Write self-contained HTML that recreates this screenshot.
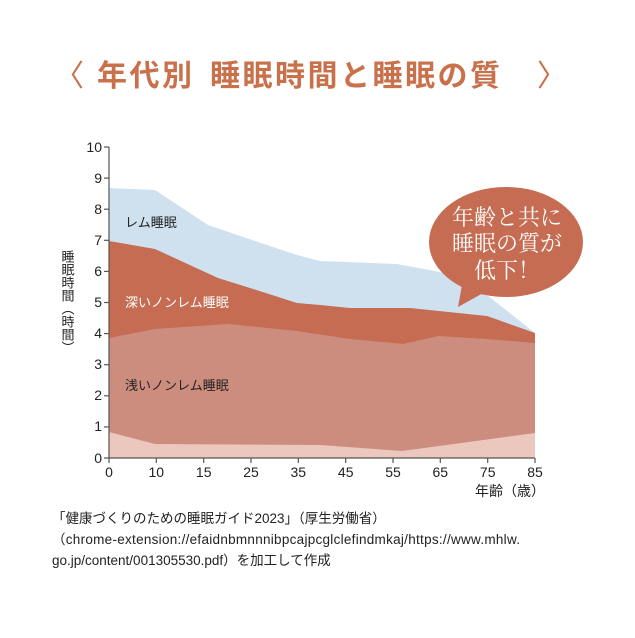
<!DOCTYPE html>
<html><head><meta charset="utf-8"><style>
body{margin:0;background:#fff;width:635px;height:633px;overflow:hidden;font-family:"Liberation Sans","Noto Sans CJK JP",sans-serif}
</style></head><body>
<svg width="635" height="633" viewBox="0 0 635 633" xmlns="http://www.w3.org/2000/svg" font-family="Liberation Sans, Noto Sans CJK JP, sans-serif">
<g font-size="30" font-weight="bold" fill="#c8714a" font-family="Noto Sans CJK JP, sans-serif">
<text x="54" y="86" font-weight="normal">〈</text>
<text x="97" y="86" letter-spacing="2.5">年代別</text>
<text x="210" y="86" letter-spacing="2.5">睡眠時間と睡眠の質</text>
<text x="537" y="86" font-weight="normal">〉</text>
</g>
<polygon fill="#cfe1ee" points="109,188 155,190 208,225 252,240 297,255 320,261 397,264 440,272 487,295 535,333 535,458 109,458"/>
<polygon fill="#c56c52" points="109,241 155,249 218,278 250,288 297,303 320,305 350,308 410,308 487,316 535,333 535,458 109,458"/>
<polygon fill="#cd8d7e" points="109,338 155,329 228,324 297,331 350,339 403,344 438,336 487,339 535,343 535,458 109,458"/>
<polygon fill="#ebc7bd" points="109,432 155,444 320,445 402,451 535,433 535,458 109,458"/>
<g stroke="#555" stroke-width="1.2">
<line x1="109" y1="147" x2="109" y2="458"/>
<line x1="109" y1="458" x2="535" y2="458"/>
<line x1="104" y1="147" x2="109" y2="147"/><line x1="104" y1="178.1" x2="109" y2="178.1"/><line x1="104" y1="209.2" x2="109" y2="209.2"/><line x1="104" y1="240.3" x2="109" y2="240.3"/><line x1="104" y1="271.4" x2="109" y2="271.4"/><line x1="104" y1="302.5" x2="109" y2="302.5"/><line x1="104" y1="333.6" x2="109" y2="333.6"/><line x1="104" y1="364.7" x2="109" y2="364.7"/><line x1="104" y1="395.8" x2="109" y2="395.8"/><line x1="104" y1="426.9" x2="109" y2="426.9"/><line x1="104" y1="458" x2="109" y2="458"/>
<line x1="109" y1="458" x2="109" y2="463"/><line x1="156.3" y1="458" x2="156.3" y2="463"/><line x1="203.7" y1="458" x2="203.7" y2="463"/><line x1="251" y1="458" x2="251" y2="463"/><line x1="298.3" y1="458" x2="298.3" y2="463"/><line x1="345.7" y1="458" x2="345.7" y2="463"/><line x1="393" y1="458" x2="393" y2="463"/><line x1="440.3" y1="458" x2="440.3" y2="463"/><line x1="487.7" y1="458" x2="487.7" y2="463"/><line x1="535" y1="458" x2="535" y2="463"/>
</g>
<g font-size="14" fill="#222" text-anchor="end">
<text x="102" y="152">10</text><text x="102" y="183">9</text><text x="102" y="214">8</text><text x="102" y="245">7</text><text x="102" y="276">6</text><text x="102" y="307">5</text><text x="102" y="338">4</text><text x="102" y="369">3</text><text x="102" y="400">2</text><text x="102" y="431">1</text><text x="102" y="463">0</text>
</g>
<g font-size="14" fill="#222" text-anchor="middle">
<text x="109" y="477">0</text><text x="156.3" y="477">10</text><text x="203.7" y="477">15</text><text x="251" y="477">25</text><text x="298.3" y="477">35</text><text x="345.7" y="477">45</text><text x="393" y="477">55</text><text x="440.3" y="477">65</text><text x="487.7" y="477">75</text><text x="535" y="477">85</text>
</g>
<text x="545" y="496" font-size="14" fill="#222" text-anchor="end">年齢（歳）</text>
<text x="67" y="250" font-size="13" fill="#222" style="writing-mode:vertical-rl">睡眠時間（時間）</text>
<g font-size="13">
<text x="125" y="227" fill="#222">レム睡眠</text>
<text x="125" y="307" fill="#fff">深いノンレム睡眠</text>
<text x="125" y="390" fill="#222">浅いノンレム睡眠</text>
</g>
<ellipse cx="506" cy="242" rx="77" ry="55" fill="#c56c52"/>
<polygon fill="#c56c52" points="462,285 485,292 458,307"/>
<g font-family="Liberation Serif, Noto Serif CJK SC, serif" font-size="22" fill="#fff" text-anchor="middle">
<text x="507" y="225">年齢と共に</text>
<text x="507" y="251">睡眠の質が</text>
<text x="507" y="278">低下！</text>
</g>
<g font-size="13.5" fill="#222">
<text x="52" y="523">「健康づくりのための睡眠ガイド2023」（厚生労働省）</text>
<text x="52" y="544" textLength="468">（chrome-extension://efaidnbmnnnibpcajpcglclefindmkaj/https://www.mhlw.</text>
<text x="52" y="565">go.jp/content/001305530.pdf）を加工して作成</text>
</g>
</svg>
</body></html>
